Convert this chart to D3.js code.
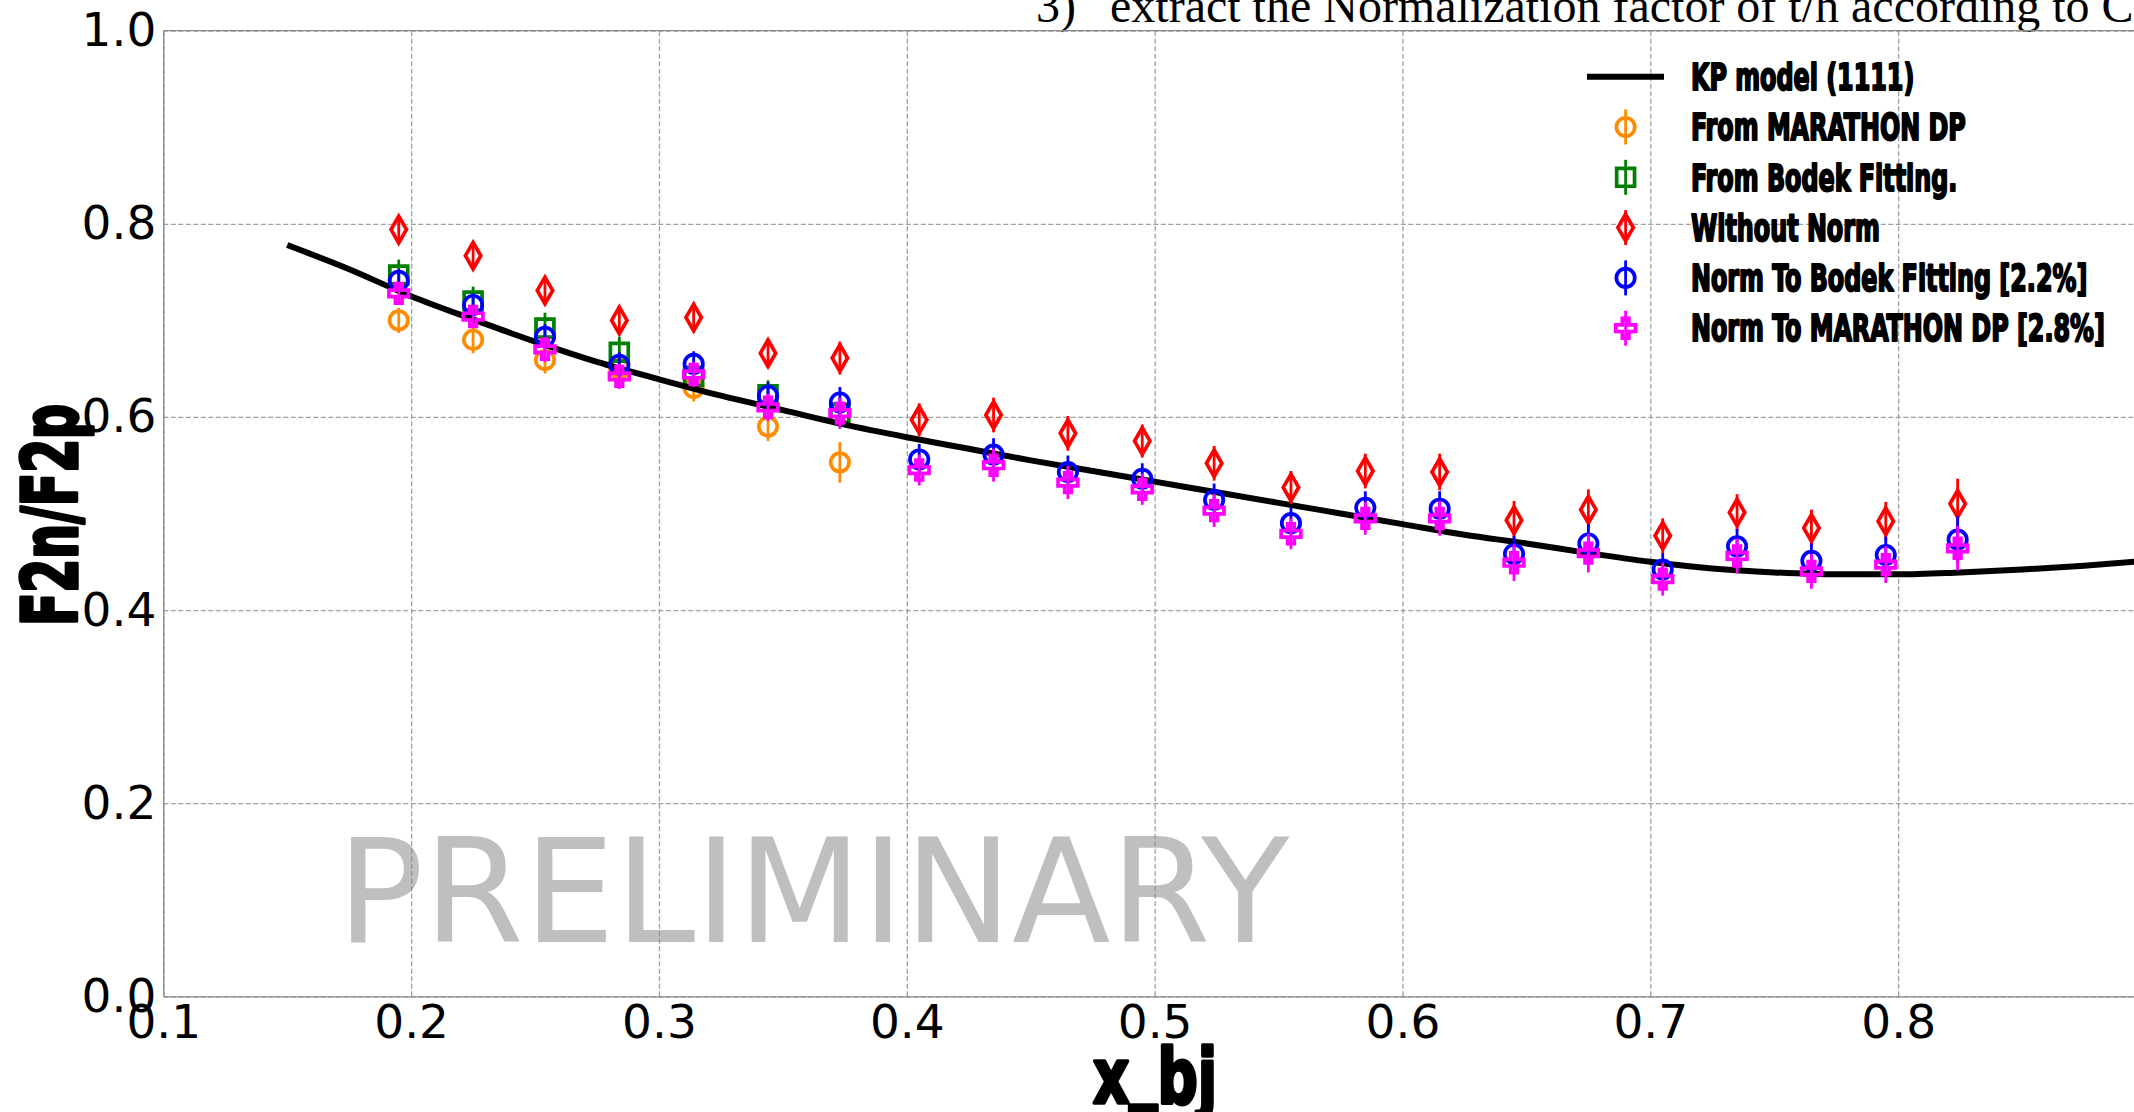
<!DOCTYPE html>
<html>
<head>
<meta charset="utf-8">
<script src="https://cdn.jsdelivr.net/npm/d3@7"></script>
<style>
  body { margin: 0; background: #fff; overflow: hidden; }
  svg { display: block; }
</style>
</head>
<body>
<div id="chart"></div>
<script>
// x_bj bin centres of the extracted points
var xBins = [0.195, 0.225, 0.254, 0.284, 0.314, 0.344, 0.373, 0.405, 0.435, 0.465, 0.495,
             0.524, 0.555, 0.585, 0.615, 0.645, 0.675, 0.705, 0.735, 0.765, 0.795, 0.824];

// the two reference sets only cover the first 7 bins
var marathonDP    = [0.700, 0.680, 0.659, 0.650, 0.630, 0.590, 0.553];
var marathonDPErr = [0.013, 0.014, 0.014, 0.014, 0.014, 0.015, 0.021];
var bodekFit      = [0.747, 0.720, 0.692, 0.667, 0.642, 0.623, 0.604];
var bodekFitErr   = [0.016, 0.015, 0.016, 0.016, 0.015, 0.015, 0.016];

var withoutNorm    = [0.794, 0.767, 0.731, 0.700, 0.703, 0.666, 0.661, 0.597, 0.602, 0.583, 0.575,
                      0.552, 0.527, 0.544, 0.543, 0.493, 0.504, 0.477, 0.501, 0.485, 0.492, 0.510];
var withoutNormErr = [0.013, 0.013, 0.014, 0.014, 0.014, 0.015, 0.017, 0.017, 0.018, 0.018, 0.017,
                      0.018, 0.017, 0.018, 0.019, 0.020, 0.021, 0.018, 0.019, 0.019, 0.020, 0.026];
var normBodek      = [0.741, 0.716, 0.683, 0.654, 0.655, 0.622, 0.615, 0.556, 0.561, 0.543, 0.536,
                      0.514, 0.490, 0.506, 0.505, 0.458, 0.469, 0.442, 0.466, 0.451, 0.457, 0.473];
var normBodekErr   = [0.012, 0.012, 0.013, 0.013, 0.013, 0.014, 0.016, 0.016, 0.017, 0.017, 0.016,
                      0.017, 0.016, 0.017, 0.018, 0.019, 0.020, 0.017, 0.018, 0.018, 0.019, 0.024];
var normMarathon    = [0.728, 0.704, 0.670, 0.642, 0.644, 0.610, 0.604, 0.545, 0.550, 0.532, 0.525,
                       0.503, 0.479, 0.495, 0.495, 0.449, 0.459, 0.432, 0.456, 0.440, 0.447, 0.464];
var normMarathonErr = [0.012, 0.012, 0.013, 0.013, 0.013, 0.014, 0.016, 0.016, 0.017, 0.017, 0.016,
                       0.017, 0.016, 0.017, 0.018, 0.019, 0.020, 0.017, 0.018, 0.018, 0.019, 0.023];

// KP model (1111) curve
var kpX = [0.15, 0.175, 0.2, 0.225, 0.25, 0.275, 0.3, 0.325, 0.35, 0.375, 0.4, 0.425, 0.45, 0.475,
           0.5, 0.525, 0.55, 0.575, 0.6, 0.625, 0.65, 0.675, 0.7, 0.725, 0.75, 0.775, 0.8, 0.825,
           0.85, 0.875, 0.9];
var kpY = [0.778, 0.753, 0.725, 0.701, 0.678, 0.657, 0.639, 0.622, 0.607, 0.592, 0.579, 0.567, 0.555,
           0.544, 0.533, 0.522, 0.511, 0.500, 0.489, 0.478, 0.469, 0.459, 0.450, 0.443, 0.439, 0.437,
           0.437, 0.439, 0.442, 0.446, 0.451];

var xTicks = [0.1, 0.2, 0.3, 0.4, 0.5, 0.6, 0.7, 0.8];
var yTicks = [0.0, 0.2, 0.4, 0.6, 0.8, 1.0];

var legendLabels = ["KP model (1111)", "From MARATHON DP", "From Bodek Fitting.", "Without Norm",
                    "Norm To Bodek Fitting [2.2%]", "Norm To MARATHON DP [2.8%]"];

// page / axes geometry
var W = 2134, H = 1112;
var plotL = 163.3, plotR = 2146, plotT = 30.7, plotB = 996.3;

var svg = d3.select("#chart").append("svg")
    .attr("width", W)
    .attr("height", H);

var x = d3.scaleLinear().domain([0.1, 0.9]).range([plotL, plotR]);
var y = d3.scaleLinear().domain([0, 1]).range([plotB, plotT]);

// slide text peeking in above the plot
svg.append("text")
    .attr("x", 1036).attr("y", 22)
    .style("font-family", "'Liberation Serif', 'Times New Roman', serif")
    .style("font-size", "48px")
    .text("3)");
svg.append("text")
    .attr("x", 1110).attr("y", 22)
    .style("font-family", "'Liberation Serif', 'Times New Roman', serif")
    .style("font-size", "48px")
    .text("extract the Normalization factor of t/h according to C");

// grid
svg.append("g")
    .attr("transform", "translate(0," + plotB + ")")
    .call(d3.axisBottom(x).tickValues(xTicks).tickSize(-(plotB - plotT)).tickFormat(""))
    .call(function(g) { g.select(".domain").remove(); })
    .selectAll("line")
    .attr("stroke", "#a0a0a0").attr("stroke-width", 1.3).attr("stroke-dasharray", "5,2.5");
svg.append("g")
    .attr("transform", "translate(" + plotL + ",0)")
    .call(d3.axisLeft(y).tickValues(yTicks).tickSize(-(plotR - plotL)).tickFormat(""))
    .call(function(g) { g.select(".domain").remove(); })
    .selectAll("line")
    .attr("stroke", "#a0a0a0").attr("stroke-width", 1.3).attr("stroke-dasharray", "5,2.5");

// spines
svg.append("line").attr("x1", plotL).attr("x2", plotR).attr("y1", plotT).attr("y2", plotT)
    .attr("stroke", "#8a8a8a").attr("stroke-width", 1.3);

var xAxis = svg.append("g")
    .attr("transform", "translate(0," + plotB + ")")
    .call(d3.axisBottom(x).tickValues(xTicks).tickSize(0).tickSizeOuter(0).tickPadding(8)
        .tickFormat(d3.format(".1f")));
var yAxis = svg.append("g")
    .attr("transform", "translate(" + plotL + ",0)")
    .call(d3.axisLeft(y).tickValues(yTicks).tickSize(0).tickSizeOuter(0).tickPadding(7)
        .tickFormat(d3.format(".1f")));
[xAxis, yAxis].forEach(function(g) {
    g.select(".domain").attr("stroke", "#8a8a8a").attr("stroke-width", 1.3);
    g.selectAll("text")
        .style("font-family", "'DejaVu Sans', sans-serif")
        .style("font-size", "47px")
        .attr("fill", "#000");
});

// watermark
svg.append("text")
    .attr("x", 337).attr("y", 942)
    .style("font-family", "'DejaVu Sans', sans-serif")
    .style("font-size", "144px")
    .attr("fill", "#808080").attr("fill-opacity", 0.5)
    .text("PRELIMINARY");

// heavy condensed label font (stands in for Impact)
var heavyFont = "'DejaVu Sans Condensed', 'DejaVu Sans', sans-serif";

function squeezeText(sel, targetWidth) {
    var w = sel.node().getComputedTextLength();
    return targetWidth / w;
}

function heavy(sel, size, stroke) {
    return sel.style("font-family", heavyFont)
        .style("font-weight", "bold").style("font-stretch", "condensed")
        .style("font-size", size + "px")
        .attr("fill", "#000").attr("stroke", "#000").attr("stroke-width", stroke)
        .attr("stroke-linejoin", "round");
}

var yLab = heavy(svg.append("text").attr("text-anchor", "middle"), 77, 3.5).text("F2n/F2p");
yLab.attr("transform", "translate(77,515) rotate(-90) scale(" + squeezeText(yLab, 222) + ",1)");

// underscore lifted a little so it stays inside the page, as in the original
var xLab = heavy(svg.append("text").attr("text-anchor", "middle"), 77, 3.5);
xLab.append("tspan").text("x");
xLab.append("tspan").attr("dy", -9).text("_");
xLab.append("tspan").attr("dy", 9).text("bj");
xLab.attr("transform", "translate(1155,1103) scale(" + squeezeText(xLab, 124) + ",1)");

// marker shapes
var shapes = {
    circle: d3.symbol().type(d3.symbolCircle).size(265)(),
    square: d3.symbol().type(d3.symbolSquare).size(320)(),
    diamond: d3.symbol().type(d3.symbolDiamond).size(205)(),
    plus: d3.symbol().type(d3.symbolCross).size(215)()
};

function drawSeries(vals, errs, color, shape) {
    var g = svg.append("g");
    var pts = vals.map(function(v, i) { return {x: xBins[i], y: v, e: errs[i]}; });
    g.selectAll("line.err").data(pts).enter().append("line")
        .attr("class", "err")
        .attr("x1", function(d) { return x(d.x); })
        .attr("x2", function(d) { return x(d.x); })
        .attr("y1", function(d) { return y(d.y - d.e); })
        .attr("y2", function(d) { return y(d.y + d.e); })
        .attr("stroke", color).attr("stroke-width", 2.8);
    g.selectAll("path.mk").data(pts).enter().append("path")
        .attr("class", "mk")
        .attr("d", shapes[shape])
        .attr("transform", function(d) { return "translate(" + x(d.x) + "," + y(d.y) + ")"; })
        .attr("fill", "none").attr("stroke", color).attr("stroke-width", 3.7);
}

drawSeries(marathonDP, marathonDPErr, "#ff8c00", "circle");
drawSeries(bodekFit, bodekFitErr, "#008000", "square");

var kp = kpX.map(function(v, i) { return [v, kpY[i]]; });
svg.append("path")
    .attr("d", d3.line().x(function(d) { return x(d[0]); }).y(function(d) { return y(d[1]); })
        .curve(d3.curveMonotoneX)(kp))
    .attr("fill", "none").attr("stroke", "#000").attr("stroke-width", 6);

drawSeries(withoutNorm, withoutNormErr, "#ff0000", "diamond");
drawSeries(normBodek, normBodekErr, "#0000ff", "circle");
drawSeries(normMarathon, normMarathonErr, "#ff00ff", "plus");

// legend
var legColors = ["#000", "#ff8c00", "#008000", "#ff0000", "#0000ff", "#ff00ff"];
var legShapes = [null, "circle", "square", "diamond", "circle", "plus"];
var leg = svg.append("g");
var legTexts = [];
legendLabels.forEach(function(lab, i) {
    var cy = 76.7 + i * 50.3;
    if (i == 0) {
        leg.append("line").attr("x1", 1587).attr("x2", 1664).attr("y1", cy).attr("y2", cy)
            .attr("stroke", "#000").attr("stroke-width", 6);
    } else {
        leg.append("line").attr("x1", 1625.6).attr("x2", 1625.6)
            .attr("y1", cy - 17.5).attr("y2", cy + 17.5)
            .attr("stroke", legColors[i]).attr("stroke-width", 2.8);
        leg.append("path").attr("d", shapes[legShapes[i]])
            .attr("transform", "translate(1625.6," + cy + ")")
            .attr("fill", "none").attr("stroke", legColors[i]).attr("stroke-width", 3.7);
    }
    legTexts.push(heavy(leg.append("text").attr("y", cy + 13.3), 37, 2).text(lab));
});
var legScale = squeezeText(legTexts[5], 414);
legTexts.forEach(function(t) {
    t.attr("transform", "translate(1691,0) scale(" + legScale + ",1)");
});
</script>
</body>
</html>
